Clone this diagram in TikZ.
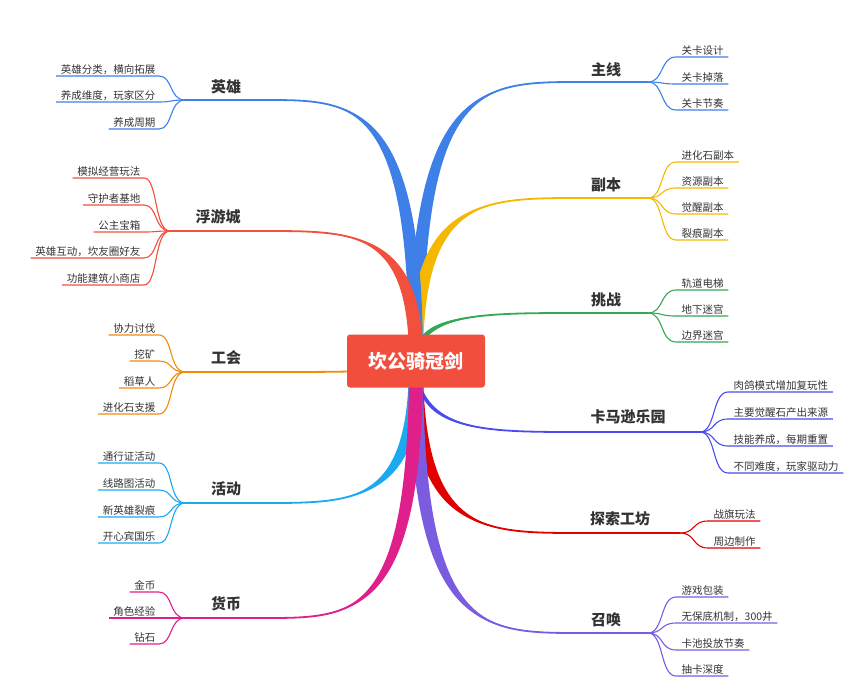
\documentclass[tikz,border=0pt]{standalone}
\usepackage{fontspec}
\setmainfont{Noto Sans CJK SC}
\definecolor{cblue}{HTML}{3F7FE8}
\definecolor{cyel}{HTML}{F5B800}
\definecolor{cgreen}{HTML}{34A853}
\definecolor{cind}{HTML}{4A4AF0}
\definecolor{cred}{HTML}{E00000}
\definecolor{cpur}{HTML}{7B5CE0}
\definecolor{cora}{HTML}{F0503C}
\definecolor{corg}{HTML}{F58A07}
\definecolor{csky}{HTML}{1BA9F0}
\definecolor{cmag}{HTML}{E0208A}
\definecolor{ccen}{HTML}{F24E3E}
\definecolor{ctxt}{HTML}{333333}
\tikzset{subtxt/.style={font=\fontsize{10.5}{12}\selectfont, text=ctxt, inner sep=1.5pt},
mainlbl/.style={font=\fontsize{15}{18}\selectfont\bfseries, text=ctxt, inner sep=1pt},
subline/.style={line width=1.1pt}}
\newcommand\branch[5]{%
\fill[#1] ({416-#2},{361-#3}) .. controls ({416-#2},#5) and ({416+0.4*(#4-416)},#5) .. (#4,#5) .. controls ({416+0.4*(#4-416)},#5) and ({416+#2},#5) .. ({416+#2},{361+#3}) -- cycle;
\draw[#1,line width=1.8pt] (416,361) .. controls (416,#5) and ({416+0.4*(#4-416)},#5) .. (#4,#5);}
\newcommand\rsub[6]{%
\node[subtxt,anchor=south west] (#6) at ({#2+32},#4) {#5};
\draw[#1,subline] (#2,#3) .. controls ({#2+16},#3) and ({#2+12},#4) .. ({#2+28},#4) -- ([xshift=3pt]#6.south east);}
\newcommand\lsub[6]{%
\node[subtxt,anchor=south east] (#6) at ({#2-28},#4) {#5};
\draw[#1,subline] (#2,#3) .. controls ({#2-16},#3) and ({#2-12},#4) .. ({#2-26},#4) -- ([xshift=-3pt]#6.south west);}
\begin{document}
\begin{tikzpicture}[x=1pt,y=-1pt]
\useasboundingbox (0,0) rectangle (854,693);
% right
\branch{cblue}{7}{0}{580}{82}
\branch{cyel}{7}{0}{580}{198}
\branch{cgreen}{0}{7}{580}{313}
\branch{cind}{0}{7}{580}{432}
\branch{cred}{7}{0}{580}{533}
\branch{cpur}{7}{0}{580}{633}
% left
\branch{cblue}{7}{0}{265}{100}
\branch{cora}{7}{0}{265}{231}
\branch{corg}{0}{7}{265}{372}
\branch{csky}{7}{0}{265}{503}
\branch{cmag}{7}{0}{265}{618}
\node[fill=ccen,rounded corners=3pt,minimum width=138pt,minimum height=53pt,text=white,font=\fontsize{19}{22}\selectfont\bfseries] (c) at (416,361) {坎公骑冠剑};
% main labels
\node[mainlbl] (zx) at (606,70) {主线};
\node[mainlbl] (fb) at (606,185) {副本};
\node[mainlbl] (tz) at (606,300) {挑战};
\node[mainlbl] (km) at (628,417) {卡马逊乐园};
\node[mainlbl] (ts) at (620,519) {探索工坊};
\node[mainlbl] (zh) at (606,620) {召唤};
\node[mainlbl] (yx) at (226,87) {英雄};
\node[mainlbl] (fy) at (218,217) {浮游城};
\node[mainlbl] (gh) at (226,358) {工会};
\node[mainlbl] (hd) at (226,489) {活动};
\node[mainlbl] (hb) at (226,604) {货币};
\draw[cblue,line width=1.8pt] (580,82) -- (648,82);
\draw[cyel,line width=1.8pt] (580,198) -- (648,198);
\draw[cgreen,line width=1.8pt] (580,313) -- (648,313);
\draw[cind,line width=1.8pt] (580,432) -- (700,432);
\draw[cred,line width=1.8pt] (580,533) -- (680,533);
\draw[cpur,line width=1.8pt] (580,633) -- (648,633);
\draw[cblue,line width=1.8pt] (265,100) -- (185,100);
\draw[cora,line width=1.8pt] (265,231) -- (170,231);
\draw[corg,line width=1.8pt] (265,372) -- (185,372);
\draw[csky,line width=1.8pt] (265,503) -- (185,503);
\draw[cmag,line width=1.8pt] (265,618) -- (185,618);
% right subs
\rsub{cblue}{648}{82}{57}{关卡设计}{a1}
\rsub{cblue}{648}{82}{84}{关卡掉落}{a2}
\rsub{cblue}{648}{82}{110}{关卡节奏}{a3}
\rsub{cyel}{648}{198}{162}{进化石副本}{b1}
\rsub{cyel}{648}{198}{188}{资源副本}{b2}
\rsub{cyel}{648}{198}{214}{觉醒副本}{b3}
\rsub{cyel}{648}{198}{240}{裂痕副本}{b4}
\rsub{cgreen}{648}{313}{290}{轨道电梯}{d1}
\rsub{cgreen}{648}{313}{316}{地下迷宫}{d2}
\rsub{cgreen}{648}{313}{342}{边界迷宫}{d3}
\rsub{cind}{700}{432}{392}{肉鸽模式增加复玩性}{e1}
\rsub{cind}{700}{432}{419}{主要觉醒石产出来源}{e2}
\rsub{cind}{700}{432}{446}{技能养成，每期重置}{e3}
\rsub{cind}{700}{432}{473}{不同难度，玩家驱动力}{e4}
\rsub{cred}{680}{533}{521}{战旗玩法}{f1}
\rsub{cred}{680}{533}{548}{周边制作}{f2}
\rsub{cpur}{648}{633}{597}{游戏包装}{g1}
\rsub{cpur}{648}{633}{623}{无保底机制，300井}{g2}
\rsub{cpur}{648}{633}{650}{卡池投放节奏}{g3}
\rsub{cpur}{648}{633}{676}{抽卡深度}{g4}
% left subs
\lsub{cblue}{185}{100}{76}{英雄分类，横向拓展}{h1}
\lsub{cblue}{185}{100}{102}{养成维度，玩家区分}{h2}
\lsub{cblue}{185}{100}{129}{养成周期}{h3}
\lsub{cora}{170}{231}{178}{模拟经营玩法}{i1}
\lsub{cora}{170}{231}{205}{守护者基地}{i2}
\lsub{cora}{170}{231}{232}{公主宝箱}{i3}
\lsub{cora}{170}{231}{258}{英雄互动，坎友圈好友}{i4}
\lsub{cora}{170}{231}{285}{功能建筑小商店}{i5}
\lsub{corg}{185}{372}{335}{协力讨伐}{j1}
\lsub{corg}{185}{372}{361}{挖矿}{j2}
\lsub{corg}{185}{372}{388}{稻草人}{j3}
\lsub{corg}{185}{372}{414}{进化石支援}{j4}
\lsub{csky}{185}{503}{463}{通行证活动}{k1}
\lsub{csky}{185}{503}{490}{线路图活动}{k2}
\lsub{csky}{185}{503}{517}{新英雄裂痕}{k3}
\lsub{csky}{185}{503}{543}{开心宾国乐}{k4}
\lsub{cmag}{185}{618}{592}{金币}{l1}
\lsub{cmag}{185}{618}{618}{角色经验}{l2}
\lsub{cmag}{185}{618}{644}{钻石}{l3}
\end{tikzpicture}
\end{document}
